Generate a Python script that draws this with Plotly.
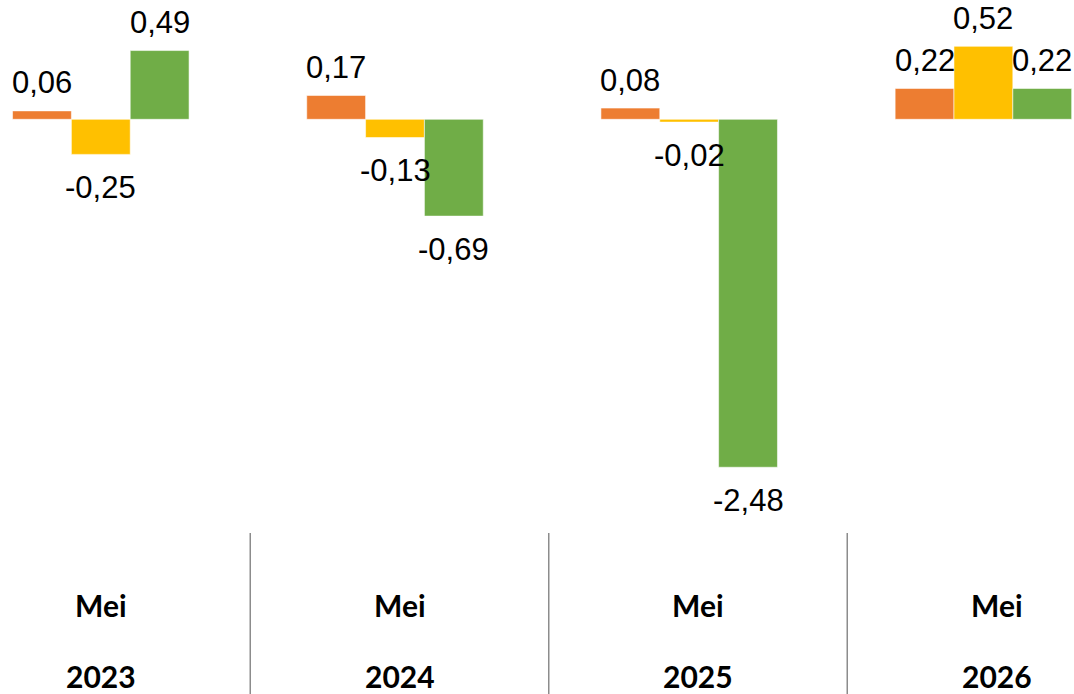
import plotly.graph_objects as go

# ---- data ----
months = ["Mei", "Mei", "Mei", "Mei"]
years = ["2023", "2024", "2025", "2026"]
series_names = ["Seri 1", "Seri 2", "Seri 3"]
series_values = [
    [0.06, 0.17, 0.08, 0.22],     # orange
    [-0.25, -0.13, -0.02, 0.52],  # yellow
    [0.49, -0.69, -2.48, 0.22],   # green
]
colors = ["#ED7D31", "#FFC000", "#70AD47"]

W, H = 1074, 694
x_idx = list(range(len(years)))

fig = go.Figure()
for name, vals, col in zip(series_names, series_values, colors):
    fig.add_trace(go.Bar(
        x=x_idx, y=vals, name=name,
        marker=dict(color=col, line=dict(color="rgba(255,255,255,0.55)", width=1)),
        hoverinfo="skip",
    ))
# invisible trace so the category-label axis (x2) exists
fig.add_trace(go.Scatter(x=x_idx, y=[0] * len(x_idx), xaxis="x2", mode="markers",
                         marker=dict(opacity=0), hoverinfo="skip", showlegend=False))

n_series = len(series_values)
bar_w = 0.2
annotations = []
for j, vals in enumerate(series_values):
    for i, v in enumerate(vals):
        txt = f"{v:.2f}".replace(".", ",")
        annotations.append(dict(
            x=i + (j - (n_series - 1) / 2) * bar_w, y=v, xref="x", yref="y",
            text=txt, showarrow=False, yanchor="middle",
            yshift=28 if v >= 0 else -33,
            font=dict(family="Liberation Sans, Arial", size=31, color="#000000"),
        ))

def py(p):
    return 1 - p / H

for i, (m, yr) in enumerate(zip(months, years)):
    annotations.append(dict(x=i, y=py(605), xref="x2", yref="paper",
                            text=f"<b>{m}</b>", showarrow=False, yanchor="middle",
                            font=dict(family="Lato", size=30, color="#000000")))
    annotations.append(dict(x=i, y=py(676), xref="x2", yref="paper",
                            text=f"<b>{yr}</b>", showarrow=False, yanchor="middle",
                            borderpad=0,
                            font=dict(family="Lato", size=30, color="#000000")))

shapes = []
for i in range(len(years) - 1):
    shapes.append(dict(type="line", xref="x2", yref="paper",
                       x0=i + 0.5, x1=i + 0.5, y0=py(533), y1=0,
                       line=dict(color="#8C8C8C", width=1.5)))

cx0, cstep = 100.8, 294.2      # bar groups
lx0, lstep = 101.0, 298.5      # category label cells
zy, ystep = 119.3, 140.3
fig.update_layout(
    width=W, height=H,
    margin=dict(l=0, r=0, t=0, b=0),
    paper_bgcolor="white", plot_bgcolor="white",
    barmode="group", bargap=0.4, bargroupgap=0,
    showlegend=False,
    xaxis=dict(range=[-cx0 / cstep, (W - cx0) / cstep], visible=False, fixedrange=True),
    xaxis2=dict(range=[-lx0 / lstep, (W - lx0) / lstep], visible=False,
                overlaying="x", fixedrange=True),
    yaxis=dict(range=[-(H - zy) / ystep, zy / ystep], visible=False,
               zeroline=False, showgrid=False, fixedrange=True),
    annotations=annotations,
    shapes=shapes,
)

fig.write_html(
    "out.html",
    config={"displayModeBar": False},
    post_script="document.documentElement.style.overflow='hidden';"
                "document.body.style.margin='0';document.body.style.overflow='hidden';",
)
